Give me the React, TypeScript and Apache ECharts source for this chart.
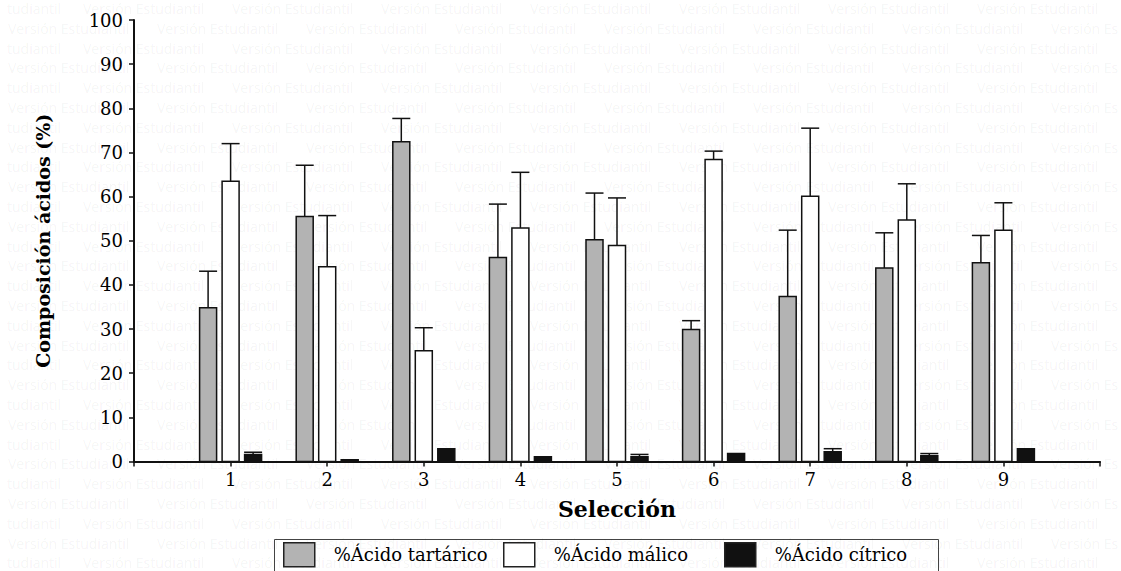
import React, { useEffect, useRef } from 'react';
import * as echarts from 'echarts';

const selections = [1, 2, 3, 4, 5, 6, 7, 8, 9];
const tartaric = [34.8, 55.5, 72.4, 46.2, 50.2, 29.9, 37.4, 43.8, 45.0];
const tartaricErr = [8.3, 11.6, 5.3, 12.1, 10.6, 2.0, 15.0, 8.0, 6.2];
const malic = [63.5, 44.1, 25.1, 52.9, 48.9, 68.4, 60.1, 54.7, 52.4];
const malicErr = [8.5, 11.6, 5.2, 12.6, 10.8, 1.9, 15.4, 8.2, 6.2];
const citric = [1.6, 0.4, 2.9, 1.1, 1.1, 1.8, 2.2, 1.3, 2.9];
const citricErr = [0.5, 0, 0, 0, 0.5, 0, 0.7, 0.5, 0];
const seriesNames = ['%Ácido tartárico', '%Ácido málico', '%Ácido cítrico'];
const seriesColors = ['#b3b3b3', '#ffffff', '#111111'];
const watermarkText = 'Versión Estudiantil';
const watermarkHead = 'tudiantil';
const watermarkTail = 'Versión Es';

const SERIF = 'DejaVu Serif';

function wmText(x: number, y: number, text: string) {
  return {
    type: 'text',
    x,
    y,
    silent: true,
    style: {
      text,
      fontFamily: 'Open Sans',
      fontSize: 14,
      fill: 'rgba(0,0,0,0.055)',
      verticalAlign: 'middle',
      align: 'left',
    },
  };
}

function buildWatermark() {
  const els: any[] = [];
  for (let r = 0; r < 29; r++) {
    const y = 8.5 + r * 19.8;
    if (r % 2 === 0) {
      els.push(wmText(7, y, watermarkHead));
      for (let k = 0; k < 7; k++) els.push(wmText(83 + k * 149, y, watermarkText));
    } else {
      for (let k = 0; k < 7; k++) els.push(wmText(8 + k * 149, y, watermarkText));
      els.push(wmText(8 + 7 * 149, y, watermarkTail));
    }
  }
  return { type: 'group', z: 100, silent: true, children: els };
}

function makeSeries(vals: number[], errs: number[], idx: number, offset: number) {
  const color = seriesColors[idx];
  return {
    type: 'custom',
    name: seriesNames[idx],
    data: selections.map((s, i) => [s, vals[i], errs[i]]),
    encode: { x: 0, y: 1 },
    itemStyle: { color, borderColor: '#111', borderWidth: 1.5 },
    renderItem: (params: any, api: any) => {
      const x = api.value(0);
      const y = api.value(1);
      const e = api.value(2);
      const base = api.coord([x, 0]);
      const top = api.coord([x, y]);
      const et = api.coord([x, y + e]);
      const cx = base[0] + offset;
      const children: any[] = [];
      if (e > 0) {
        children.push({
          type: 'line',
          shape: { x1: cx, y1: top[1], x2: cx, y2: et[1] },
          style: { stroke: '#111', lineWidth: 1.5 },
        });
        children.push({
          type: 'line',
          shape: { x1: cx - 9, y1: et[1], x2: cx + 9, y2: et[1] },
          style: { stroke: '#111', lineWidth: 1.5 },
        });
      }
      children.push({
        type: 'rect',
        shape: { x: cx - 8.5, y: top[1], width: 17, height: base[1] - top[1] },
        style: { fill: color, stroke: '#111', lineWidth: 1.5 },
      });
      return { type: 'group', children };
    },
  };
}

function makeLegend(idx: number, left: number) {
  return {
    data: [seriesNames[idx]],
    left,
    top: 542,
    padding: 0,
    itemWidth: 31,
    itemHeight: 24,
    icon: 'rect',
    selectedMode: false,
    itemStyle: { color: seriesColors[idx], borderColor: '#222', borderWidth: 1.5 },
    textStyle: { fontFamily: SERIF, fontSize: 18, color: '#000', padding: [0, 0, 0, 14] },
  };
}

export default function App() {
  const ref = useRef<HTMLDivElement>(null);
  useEffect(() => {
    const chart = echarts.init(ref.current!, null, { renderer: 'svg' });
    chart.setOption({
      animation: false,
      backgroundColor: '#fff',
      grid: { left: 134, right: 21, top: 20, bottom: 109.5 },
      xAxis: {
        type: 'value',
        min: 0,
        max: 10,
        interval: 1,
        name: 'Selección',
        nameLocation: 'middle',
        nameGap: 36,
        nameTextStyle: { fontFamily: SERIF, fontWeight: 'bold', fontSize: 22, color: '#000' },
        splitLine: { show: false },
        axisLine: { lineStyle: { color: '#111', width: 2 } },
        axisTick: { length: 5, lineStyle: { color: '#111', width: 1.5 } },
        axisLabel: {
          fontFamily: SERIF,
          fontSize: 18,
          color: '#000',
          margin: 9,
          formatter: (v: number) => (v >= 1 && v <= 9 ? String(v) : ''),
        },
      },
      yAxis: {
        type: 'value',
        min: 0,
        max: 100,
        interval: 10,
        name: 'Composición ácidos (%)',
        nameLocation: 'middle',
        nameRotate: 90,
        nameGap: 82,
        nameTextStyle: { fontFamily: SERIF, fontWeight: 'bold', fontSize: 19, color: '#000' },
        splitLine: { show: false },
        axisLine: { show: true, lineStyle: { color: '#111', width: 2 } },
        axisTick: { show: true, length: 5, lineStyle: { color: '#111', width: 1.5 } },
        axisLabel: { fontFamily: SERIF, fontSize: 18, color: '#000', margin: 11 },
      },
      legend: [makeLegend(0, 283), makeLegend(1, 503), makeLegend(2, 724)],
      graphic: [
        {
          type: 'rect',
          shape: { x: 274.5, y: 539.5, width: 664, height: 50 },
          style: { fill: 'none', stroke: '#444', lineWidth: 1 },
          silent: true,
        },
        buildWatermark(),
      ],
      series: [
        makeSeries(tartaric, tartaricErr, 0, -22.5),
        makeSeries(malic, malicErr, 1, 0),
        makeSeries(citric, citricErr, 2, 22.5),
      ],
    });
    return () => chart.dispose();
  }, []);
  return (
    <div
      ref={ref}
      style={{ position: 'fixed', left: 0, top: 0, width: 1121, height: 571, background: '#fff' }}
    />
  );
}
